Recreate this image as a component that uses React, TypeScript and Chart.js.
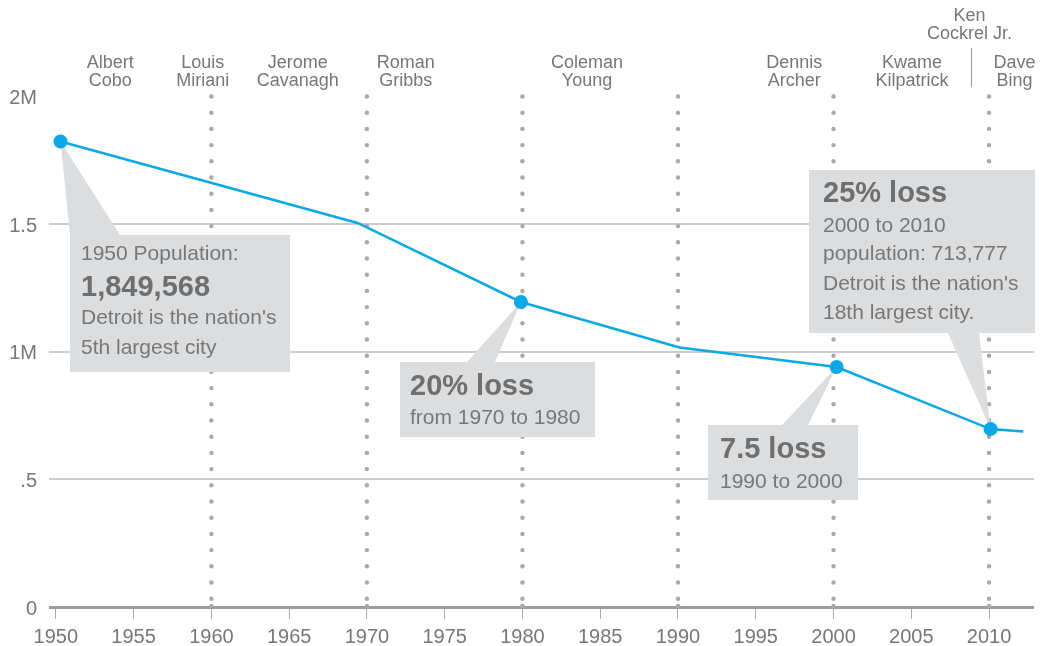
import React, { useEffect, useRef } from 'react';
import { Chart, registerables } from 'chart.js';

Chart.register(...registerables);

// ---------- data ----------
const YEARS = [1950.3, 1969.4, 1979.9, 1990.1, 2000.2, 2010.1, 2012.2];
const POPULATION = [1823500, 1504700, 1195000, 1017000, 940000, 697000, 687500];
const MARKED = [true, false, true, false, true, true, false];

const X_TICKS = [1950, 1955, 1960, 1965, 1970, 1975, 1980, 1985, 1990, 1995, 2000, 2005, 2010];
const Y_TICKS = [0, 500000, 1000000, 1500000, 2000000];
const Y_LABELS = ['0', '.5', '1M', '1.5', '2M'];
const DECADE_LINES = [1960, 1970, 1980, 1990, 2000, 2010];

const MAYOR_NAMES = [
  ['Albert', 'Cobo'],
  ['Louis', 'Miriani'],
  ['Jerome', 'Cavanagh'],
  ['Roman', 'Gribbs'],
  ['Coleman', 'Young'],
  ['Dennis', 'Archer'],
  ['Kwame', 'Kilpatrick'],
  ['Ken', 'Cockrel Jr.'],
  ['Dave', 'Bing'],
];
const MAYOR_YEARS = [1953.5, 1959.45, 1965.55, 1972.5, 1984.15, 1997.47, 2005.05, 2008.75, 2011.63];
const MAYOR_RAISED = [false, false, false, false, false, false, false, true, false];
const SEPARATOR_YEAR = 2008.83;

const NOTE_LINES = [
  ['1950 Population:', '1,849,568', "Detroit is the nation's", '5th largest city'],
  ['20% loss', 'from 1970 to 1980'],
  ['7.5 loss', '1990 to 2000'],
  ['25% loss', '2000 to 2010', 'population: 713,777', "Detroit is the nation's", '18th largest city.'],
];
const NOTE_BOLD = [
  [false, true, false, false],
  [true, false],
  [true, false],
  [true, false, false, false, false],
];
const NOTE_POINT = [0, 2, 4, 5];

// ---------- layout / style ----------
const FONT = '"Liberation Sans", Arial, Helvetica, sans-serif';
const TEXT = '#777777';
const BOLD_TEXT = '#6f6f6f';
const BLUE = '#0aa8e4';
const BOX = '#dcdddf';
const DOT = '#a9a9a9';

const NOTE_LAYOUT = [
  { x: 70, y: 235, w: 220, h: 137, edge: 'top', p1: 70, p2: 120, tx: 81, base: [260, 295.5, 324, 353.5] },
  { x: 400, y: 362, w: 195, h: 75, edge: 'top', p1: 467, p2: 495, tx: 410, base: [394.5, 423.5] },
  { x: 708, y: 425, w: 150, h: 75, edge: 'top', p1: 782, p2: 808, tx: 720, base: [458, 487.5] },
  { x: 809, y: 170, w: 226, h: 163, edge: 'bottom', p1: 948, p2: 979, tx: 823, base: [202, 232, 260, 290, 318.5] },
];

const overlay = {
  id: 'overlay',
  beforeDatasetsDraw(chart: any) {
    const { ctx, scales } = chart;
    const x = scales.x;
    const y = scales.y;
    ctx.save();
    // dotted decade lines
    const top = y.getPixelForValue(2000000);
    const bottom = y.getPixelForValue(0);
    ctx.fillStyle = DOT;
    for (const yr of DECADE_LINES) {
      const px = x.getPixelForValue(yr);
      for (let k = 0; ; k++) {
        const py = top + k * 16.2;
        if (py > bottom - 4) break;
        ctx.beginPath();
        ctx.arc(px, py, 2.2, 0, Math.PI * 2);
        ctx.fill();
      }
      ctx.beginPath();
      ctx.arc(px, bottom - 1, 2.2, 0, Math.PI * 2);
      ctx.fill();
    }
    // callout boxes
    const meta = chart.getDatasetMeta(0);
    NOTE_LAYOUT.forEach((n, i) => {
      const pt = meta.data[NOTE_POINT[i]];
      const ey = n.edge === 'top' ? n.y : n.y + n.h;
      ctx.fillStyle = BOX;
      ctx.beginPath();
      ctx.moveTo(pt.x, pt.y);
      ctx.lineTo(n.p1, ey);
      ctx.lineTo(n.p2, ey);
      ctx.closePath();
      ctx.fill();
      ctx.fillRect(n.x, n.y, n.w, n.h);
      ctx.textAlign = 'left';
      ctx.textBaseline = 'alphabetic';
      NOTE_LINES[i].forEach((line, j) => {
        const bold = NOTE_BOLD[i][j];
        ctx.font = bold ? `bold 29px ${FONT}` : `21px ${FONT}`;
        ctx.fillStyle = bold ? BOLD_TEXT : TEXT;
        ctx.fillText(line, n.tx, n.base[j]);
      });
    });
    ctx.restore();
  },
  afterDraw(chart: any) {
    const { ctx, scales } = chart;
    const x = scales.x;
    ctx.save();
    ctx.font = `18px ${FONT}`;
    ctx.fillStyle = TEXT;
    ctx.textAlign = 'center';
    ctx.textBaseline = 'alphabetic';
    MAYOR_NAMES.forEach((lines, i) => {
      const px = x.getPixelForValue(MAYOR_YEARS[i]);
      const b0 = MAYOR_RAISED[i] ? 21 : 68;
      lines.forEach((t, j) => ctx.fillText(t, px, b0 + j * 18.3));
    });
    const sx = Math.round(x.getPixelForValue(SEPARATOR_YEAR)) + 0.5;
    ctx.strokeStyle = '#9a9a9a';
    ctx.lineWidth = 1;
    ctx.beginPath();
    ctx.moveTo(sx, 48);
    ctx.lineTo(sx, 87);
    ctx.stroke();
    ctx.restore();
  },
};

export default function App() {
  const ref = useRef<HTMLCanvasElement>(null);
  useEffect(() => {
    const chart = new Chart(ref.current as HTMLCanvasElement, {
      type: 'line',
      data: {
        datasets: [
          {
            data: YEARS.map((yr, i) => ({ x: yr, y: POPULATION[i] })),
            borderColor: BLUE,
            borderWidth: 2.5,
            backgroundColor: BLUE,
            pointBackgroundColor: BLUE,
            pointBorderWidth: 0,
            pointRadius: MARKED.map((m) => (m ? 7 : 0)),
            tension: 0,
            clip: false as any,
          },
        ],
      },
      options: {
        animation: false,
        responsive: true,
        maintainAspectRatio: false,
        events: [],
        layout: { padding: { top: 96.5, right: 6, left: 0, bottom: 0 } },
        plugins: { legend: { display: false }, tooltip: { enabled: false } },
        scales: {
          x: {
            type: 'linear',
            min: 1949.56,
            max: 2012.89,
            afterBuildTicks: (s: any) => {
              s.ticks = X_TICKS.map((v) => ({ value: v }));
            },
            afterFit: (s: any) => {
              s.height = 39;
            },
            border: { display: false },
            grid: { drawOnChartArea: false, drawTicks: true, tickLength: 12, color: '#aaaaaa', lineWidth: 1 },
            ticks: {
              autoSkip: false,
              maxRotation: 0,
              padding: 6,
              color: TEXT,
              font: { family: FONT, size: 20 },
              callback: (v: any) => String(v),
            },
          },
          y: {
            type: 'linear',
            min: 0,
            max: 2000000,
            afterBuildTicks: (s: any) => {
              s.ticks = Y_TICKS.map((v) => ({ value: v }));
            },
            afterFit: (s: any) => {
              s.width = 49;
            },
            border: { display: false },
            grid: {
              drawTicks: false,
              color: (c: any) =>
                c.tick && c.tick.value === 2000000 ? 'rgba(0,0,0,0)' : c.tick && c.tick.value === 0 ? '#9c9c9c' : '#cccccc',
              lineWidth: (c: any) => (c.tick && c.tick.value === 0 ? 3 : 2),
            },
            ticks: {
              padding: 12,
              labelOffset: 2,
              color: TEXT,
              font: { family: FONT, size: 20 },
              callback: (v: any) => {
                const i = Y_TICKS.indexOf(Number(v));
                return i >= 0 ? Y_LABELS[i] : '';
              },
            },
          },
        },
      },
      plugins: [overlay],
    } as any);
    return () => chart.destroy();
  }, []);
  return (
    <div style={{ position: 'fixed', left: 0, top: 0, width: 1041, height: 646 }}>
      <canvas ref={ref} />
    </div>
  );
}
